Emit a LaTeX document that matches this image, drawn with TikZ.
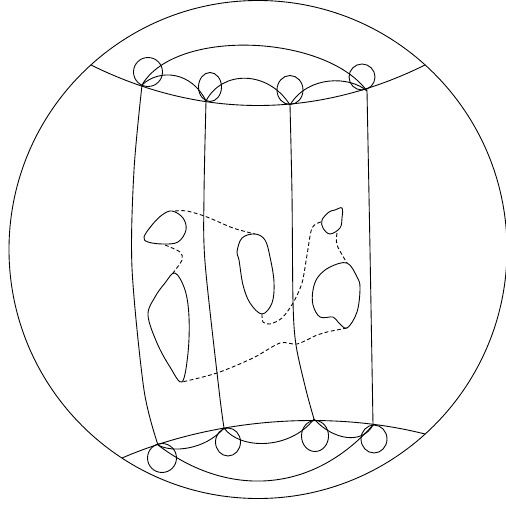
\documentclass[tikz,border=0pt]{standalone}
\usepackage{tikz}
\begin{document}
\begin{tikzpicture}[x=0.02cm, y=-0.02cm, line width=0.5pt,
    blob/.style={smooth cycle, tension=0.6},
    tube/.style={dashed, dash pattern=on 2.2pt off 1.4pt}]
    \useasboundingbox (0,0) rectangle (506,506);

    % 1. Outer circle
    \draw (258,249.5) circle (249);

    % 2. Attaching points
    \coordinate (p1) at (142,85);
    \coordinate (p2) at (206,101);
    \coordinate (p3) at (290,105);
    \coordinate (p4) at (367,91);
    \coordinate (q1) at (158,445);
    \coordinate (q2) at (224,428);
    \coordinate (q3) at (314,419);
    \coordinate (q4) at (373,425);

    % 3. Top cap
    \draw (91,65) .. controls (200,119) and (316,119) .. (425,65);
    \draw (p1) .. controls (175,28) and (325,34) .. (p4);
    \draw (p1) .. controls (160,68) and (192,72) .. (p2);
    \draw (p2) .. controls (222,70) and (268,70) .. (p3);
    \draw (p3) .. controls (308,75) and (350,76) .. (p4);
    \draw (148,72) circle (14.5);
    \draw (210,87) ellipse (11.5 and 14.5);
    \draw (290,90) ellipse (13 and 14.5);
    \draw (362,77) circle (13);

    % 4. Bottom cap
    \draw (122,458) .. controls (215,418) and (330,410) .. (425,434);
    \draw (q1) .. controls (225,496) and (310,496) .. (q4);
    \draw (q1) .. controls (172,453) and (205,450) .. (q2);
    \draw (q2) .. controls (240,450) and (290,450) .. (q3);
    \draw (q3) .. controls (333,440) and (362,445) .. (q4);
    \draw (162,458) circle (14.5);
    \draw (228,442) ellipse (12.5 and 14);
    \draw (315,436) ellipse (13.5 and 15.5);
    \draw (374,439) ellipse (13 and 14);

    % 5. Handles
    \draw plot[smooth] coordinates {(p1) (134,170) (132,268) (144,390) (q1)};
    \draw plot[smooth] coordinates {(p2) (204,195) (205,262) (219,390) (q2)};
    \draw plot[smooth] coordinates {(p3) (292,195) (293,302) (296,345) (306,390) (q3)};
    \draw plot[smooth] coordinates {(p4) (370,250) (q4)};

    % 6. Boundary curves
    \draw plot[blob] coordinates {(172,211) (183,218) (186,230) (178,242) (163,244) (148,242) (144,237) (152,225) (162,215)};
    \draw plot[blob] coordinates {(175,273) (185,290) (189,317) (188,353) (182,382) (170,367) (157,343) (148,315) (155,297) (165,283)};
    \draw plot[blob] coordinates {(255,234) (265,240) (270,257) (274,282) (272,303) (262,314) (250,303) (243,285) (239,260) (237,252) (242,238)};
    \draw plot[blob] coordinates {(342,208) (342,218) (340,228) (330,234) (323,228) (322,220) (329,212) (335,210)};
    \draw plot[blob] coordinates {(347,263) (357,277) (360,288) (357,312) (347,328) (338,322) (333,317) (320,317) (313,305) (313,290) (318,277) (330,267)};

    % 7. Dashed arcs
    \draw[tube] plot[smooth] coordinates {(175,211) (187,211) (207,217) (233,228) (255,234)};
    \draw[tube] plot[smooth] coordinates {(165,245) (180,252) (182,260) (173,273)};
    \draw[tube] plot[smooth] coordinates {(262,314) (263,322) (270,324) (282,318) (293,303) (302,283) (307,255) (312,228) (321,222)};
    \draw[tube] plot[smooth] coordinates {(337,233) (337,245) (347,263)};
    \draw[tube] plot[smooth] coordinates {(347,328) (327,332) (317,335) (297,344) (280,343) (253,358) (217,373) (182,382)};

\end{tikzpicture}
\end{document}
